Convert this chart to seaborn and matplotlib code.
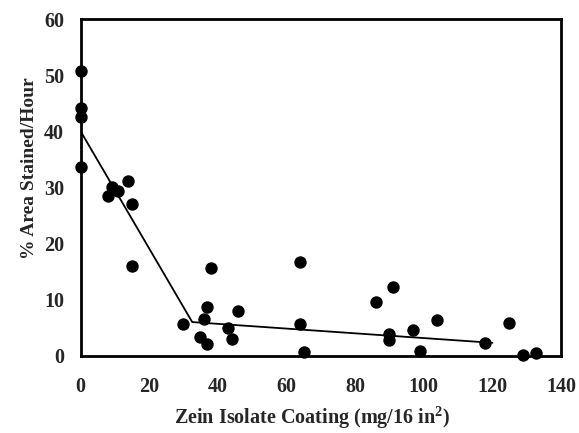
import matplotlib
matplotlib.use("Agg")
import matplotlib.pyplot as plt
import seaborn as sns
import pandas as pd

coating = [0, 0, 0, 0, 9.0, 11.0, 8.0, 13.9, 14.9, 14.9, 29.9, 38.1, 36.9, 35.9,
           45.9, 34.8, 36.9, 43.0, 44.0, 63.9, 63.9, 65.0, 90.9, 86.0, 89.9, 89.9,
           96.9, 103.9, 98.9, 117.8, 124.8, 128.9, 132.8]
stained = [50.8, 44.1, 42.5, 33.7, 30.1, 29.4, 28.4, 31.2, 27.1, 16.0, 5.6, 15.6,
           8.7, 6.5, 8.0, 3.3, 2.1, 4.9, 3.0, 16.8, 5.6, 0.7, 12.2, 9.6, 3.9, 2.8,
           4.5, 6.4, 0.9, 2.2, 5.9, 0.1, 0.4]
fit_x = [0, 32.5, 120]
fit_y = [40.0, 6.0, 2.3]
xticks = [0, 20, 40, 60, 80, 100, 120, 140]
yticks = [0, 10, 20, 30, 40, 50, 60]

sns.set_style("white")
plt.rcParams['font.family'] = ['Liberation Serif', 'DejaVu Serif']
plt.rcParams['mathtext.fontset'] = 'custom'
plt.rcParams['mathtext.rm'] = 'Liberation Serif'
plt.rcParams['mathtext.bf'] = 'Liberation Serif:bold'

fig = plt.figure(figsize=(5.79, 4.33), dpi=100)
ax = fig.add_axes([0.1394, 0.1785, 0.969 - 0.1394, 0.9554 - 0.1785])

df = pd.DataFrame({"x": coating, "y": stained})
fit = pd.DataFrame({"x": fit_x, "y": fit_y})
sns.lineplot(data=fit, x="x", y="y", sort=False, color="black", linewidth=1.3, ax=ax, zorder=2)
sns.scatterplot(data=df, x="x", y="y", color="black", s=80, edgecolor="black", linewidth=0, ax=ax, zorder=3, clip_on=False)

ax.set_xlim(0, 140)
ax.set_ylim(0, 60)
ax.set_xticks(xticks)
ax.set_yticks(yticks)
ax.set_xticklabels([str(t) for t in xticks], fontsize=14.5, fontweight="bold")
ax.set_yticklabels([str(t) for t in yticks], fontsize=14.5, fontweight="bold")
ax.tick_params(axis="both", direction="out", length=5, width=1.5, color="black")
ax.tick_params(axis="y", pad=7)
ax.tick_params(axis="x", pad=10)
for sp in ax.spines.values():
    sp.set_visible(True)
    sp.set_color("black")
    sp.set_linewidth(2)

ax.set_xlabel("Zein Isolate Coating (mg/16 in$^\\mathbf{2}$)", fontsize=14.5, fontweight="bold")
ax.set_ylabel("% Area Stained/Hour", fontsize=14, fontweight="bold")
ax.xaxis.set_label_coords(0.4816, -0.145)
ax.yaxis.set_label_coords(-0.089, 0.558)

fig.savefig("out.png", dpi=100)
